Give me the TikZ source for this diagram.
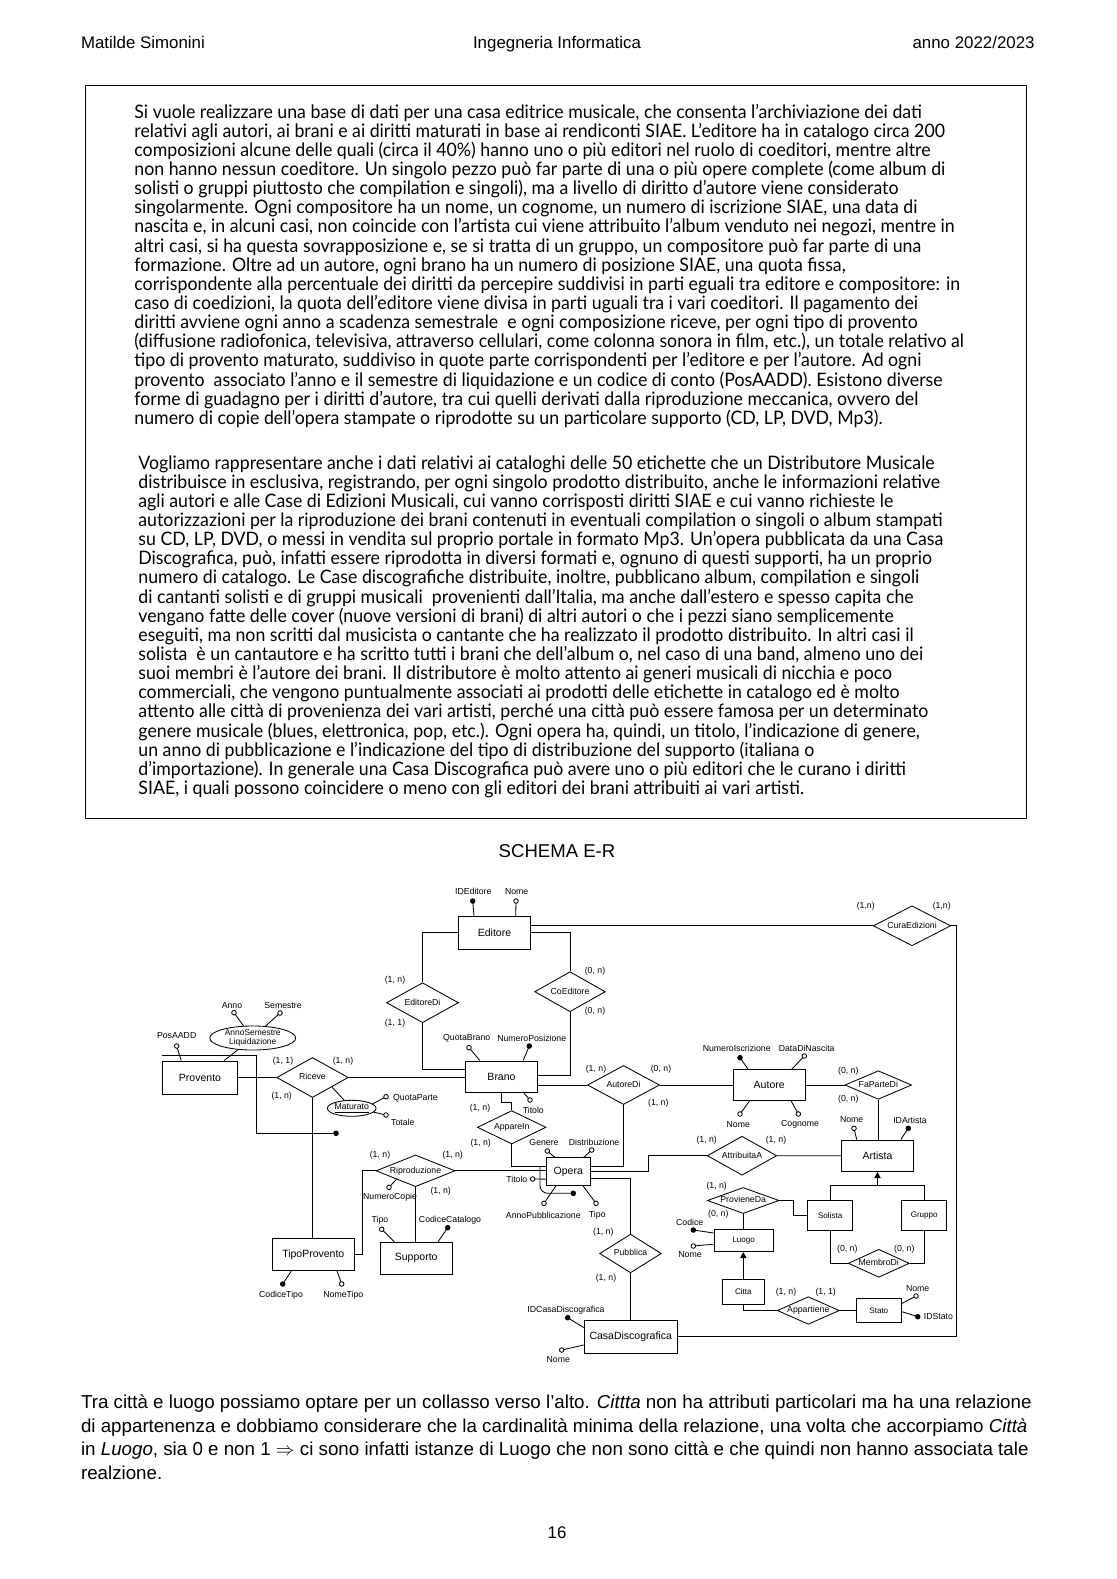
\documentclass[tikz,border=0pt]{standalone}
\usepackage{fontspec}
\setmainfont{Liberation Sans}
\newfontfamily\boxfont[FakeStretch=0.955]{Lato}
\usetikzlibrary{arrows.meta,shapes.geometric}
\newdimen\pxu \pxu=0.53333pt
\newcommand{\entfont}{\fontsize{5.6}{6.5}\selectfont}
\newcommand{\smfont}{\fontsize{4.3}{5}\selectfont}
\newcommand{\attfont}{\fontsize{4.65}{5.3}\selectfont}
\newcommand{\boxtext}{\boxfont\fontsize{9.9}{10.21}\selectfont\lineskiplimit-20pt\relax}

\begin{document}
\begin{tikzpicture}[x=0.53333pt,y=-0.53333pt,line width=0.45pt,
  sz/.style 2 args={minimum width=#1*\pxu,minimum height=#2*\pxu},
  entity/.style={draw,rectangle,inner sep=0pt,font=\entfont},
  small/.style={font=\smfont},
  rel/.style={draw,diamond,aspect=2.5,inner sep=0pt,text height=3.3pt,text depth=0.8pt,font=\attfont},
  att/.style={draw,circle,fill=white,inner sep=0pt,minimum size=4.6*\pxu},
  key/.style={draw,circle,fill=black,inner sep=0pt,minimum size=4.6*\pxu},
  lbl/.style={font=\attfont,inner sep=0.4pt},
  card/.style={font=\attfont,inner sep=0pt},
  gen/.style={-{Triangle[length=3.2pt,width=3.4pt]}},
  para/.style={align=left,inner sep=0pt,font=\boxtext},
  head/.style={inner sep=0pt,font=\fontsize{9}{11}\selectfont}
]
\path[fill=white] (0,0) rectangle (1116,1579);
\useasboundingbox (0,0) rectangle (1116,1579);

% page header
\node[head,anchor=base west] (hl) at (80.6,48.3) {Matilde Simonini};
\node[head,anchor=base] (hc) at (557,48.3) {Ingegneria Informatica};
\node[head,anchor=base east] (hr) at (1035,48.3) {anno 2022/2023};

% text of the exercise
\draw[line width=0.6pt] (85.6,85.6) rectangle (1026.4,818.9);
\node[para,anchor=north west] (p1) at (134,103.5) {Si vuole realizzare una base di dati per una casa editrice musicale, che consenta l’archiviazione dei dati\\
relativi agli autori, ai brani e ai diritti maturati in base ai rendiconti SIAE. L’editore ha in catalogo circa 200\\
composizioni alcune delle quali (circa il 40\%) hanno uno o più editori nel ruolo di coeditori, mentre altre\\
non hanno nessun coeditore. Un singolo pezzo può far parte di una o più opere complete (come album di\\
solisti o gruppi piuttosto che compilation e singoli), ma a livello di diritto d’autore viene considerato\\
singolarmente. Ogni compositore ha un nome, un cognome, un numero di iscrizione SIAE, una data di\\
nascita e, in alcuni casi, non coincide con l’artista cui viene attribuito l’album venduto nei negozi, mentre in\\
altri casi, si ha questa sovrapposizione e, se si tratta di un gruppo, un compositore può far parte di una\\
formazione. Oltre ad un autore, ogni brano ha un numero di posizione SIAE, una quota fissa,\\
corrispondente alla percentuale dei diritti da percepire suddivisi in parti eguali tra editore e compositore: in\\
caso di coedizioni, la quota dell’editore viene divisa in parti uguali tra i vari coeditori. Il pagamento dei\\
diritti avviene ogni anno a scadenza semestrale \ e ogni composizione riceve, per ogni tipo di provento\\
(diffusione radiofonica, televisiva, attraverso cellulari, come colonna sonora in film, etc.), un totale relativo al\\
tipo di provento maturato, suddiviso in quote parte corrispondenti per l’editore e per l’autore. Ad ogni\\
provento \ associato l’anno e il semestre di liquidazione e un codice di conto (PosAADD). Esistono diverse\\
forme di guadagno per i diritti d’autore, tra cui quelli derivati dalla riproduzione meccanica, ovvero del\\
numero di copie dell’opera stampate o riprodotte su un particolare supporto (CD, LP, DVD, Mp3).};
\node[para,anchor=north west] (p2) at (138,455) {Vogliamo rappresentare anche i dati relativi ai cataloghi delle 50 etichette che un Distributore Musicale\\
distribuisce in esclusiva, registrando, per ogni singolo prodotto distribuito, anche le informazioni relative\\
agli autori e alle Case di Edizioni Musicali, cui vanno corrisposti diritti SIAE e cui vanno richieste le\\
autorizzazioni per la riproduzione dei brani contenuti in eventuali compilation o singoli o album stampati\\
su CD, LP, DVD, o messi in vendita sul proprio portale in formato Mp3. Un’opera pubblicata da una Casa\\
Discografica, può, infatti essere riprodotta in diversi formati e, ognuno di questi supporti, ha un proprio\\
numero di catalogo. Le Case discografiche distribuite, inoltre, pubblicano album, compilation e singoli\\
di cantanti solisti e di gruppi musicali \ provenienti dall’Italia, ma anche dall’estero e spesso capita che\\
vengano fatte delle cover (nuove versioni di brani) di altri autori o che i pezzi siano semplicemente\\
eseguiti, ma non scritti dal musicista o cantante che ha realizzato il prodotto distribuito. In altri casi il\\
solista \ è un cantautore e ha scritto tutti i brani che dell’album o, nel caso di una band, almeno uno dei\\
suoi membri è l’autore dei brani. Il distributore è molto attento ai generi musicali di nicchia e poco\\
commerciali, che vengono puntualmente associati ai prodotti delle etichette in catalogo ed è molto\\
attento alle città di provenienza dei vari artisti, perché una città può essere famosa per un determinato\\
genere musicale (blues, elettronica, pop, etc.). Ogni opera ha, quindi, un titolo, l’indicazione di genere,\\
un anno di pubblicazione e l’indicazione del tipo di distribuzione del supporto (italiana o\\
d’importazione). In generale una Casa Discografica può avere uno o più editori che le curano i diritti\\
SIAE, i quali possono coincidere o meno con gli editori dei brani attribuiti ai vari artisti.};

\node[inner sep=0pt,anchor=base,font=\fontsize{9.9}{12}\selectfont] (title) at (557,857.6) {SCHEMA E-R};

% entities
\node[entity,sz={72.4}{32.3}] (ed) at (494.5,932.8) {Editore};
\node[entity,sz={71.6}{31.7}] (br) at (501.5,1076.8) {Brano};
\node[entity,sz={74.6}{33}] (pr) at (200,1077.5) {Provento};
\node[entity,sz={81.3}{32.4}] (tp) at (313.3,1254.5) {TipoProvento};
\node[entity,sz={72.3}{32}] (sup) at (416.2,1258.3) {Supporto};
\node[entity,sz={44.7}{28}] (op) at (568.3,1171.7) {Opera};
\node[entity,sz={71.7}{31}] (aut) at (769.2,1085) {Autore};
\node[entity,sz={71.6}{31.7}] (art) at (877.5,1155.8) {Artista};
\node[entity,small,sz={45}{30}] (sol) at (830.2,1215.7) {Solista};
\node[entity,small,sz={45}{30}] (grp) at (924.2,1215.7) {Gruppo};
\node[entity,small,sz={59.3}{22.4}] (luo) at (743.7,1240.5) {Luogo};
\node[entity,small,sz={42}{25}] (cit) at (743.3,1291.8) {Citta};
\node[entity,small,sz={45.7}{24.4}] (sta) at (878.8,1310.5) {Stato};
\node[entity,sz={93.3}{33.3}] (casa) at (630.7,1336.7) {CasaDiscografica};

% relationships
\node[rel,sz={72}{40}] (edDi) at (422.5,1002.7) {EditoreDi};
\node[rel,sz={70.6}{40}] (coEd) at (570,991.7) {CoEditore};
\node[rel,sz={77.4}{40}] (cura) at (912,925.8) {CuraEdizioni};
\node[rel,sz={71.6}{40}] (ric) at (312.5,1077.5) {Riceve};
\node[rel,sz={72}{39}] (autDi) at (623.5,1085) {AutoreDi};
\node[rel,sz={66.6}{28.6}] (fpd) at (878.3,1085) {FaParteDi};
\node[rel,sz={68.6}{33.4}] (app) at (511.7,1127.3) {AppareIn};
\node[rel,sz={79}{31.7}] (rip) at (415.5,1170.8) {Riproduzione};
\node[rel,sz={69.4}{39}] (attrA) at (742,1155.7) {AttribuitaA};
\node[rel,sz={71.7}{26}] (prov) at (743.2,1200.5) {ProvieneDa};
\node[rel,sz={61.7}{38.7}] (pub) at (630.5,1253.5) {Pubblica};
\node[rel,sz={61}{28}] (mem) at (878.8,1263.3) {MembroDi};
\node[rel,sz={62}{27.6}] (appt) at (808.3,1310.5) {Appartiene};

% composite attributes
\node[draw,ellipse,sz={86}{24},inner sep=0pt,font=\fontsize{4.5}{5}\selectfont,align=center] (liq) at (252.7,1038) {AnnoSemestre\\Liquidazione};
\node[draw,ellipse,sz={46}{16},inner sep=0pt,font=\attfont] (mat) at (351.7,1108.3) {\underline{Maturato}};
\draw (pr.35) -- (liq);
\draw (ric.-26) -- (mat);

% connectors
\draw (ed.west) -| (edDi.north);
\draw (edDi.south) |- (br.west |- 0,1069);
\draw (ed.east) -| (coEd.north);
\draw (coEd.south) |- (br.east |- 0,1075);
\draw (ed.east |- cura.west) -- (cura.west);
\draw (cura.east) -- ++(5.3,0) |- (casa.east);
\draw (pr) -- (ric);
\draw (ric.east) -- (ric.east -| br.west);
\draw (ric.south) -- (ric.south |- tp.north);
\draw (rip.west) -- ++(-12.7,0) |- (tp.east);
\draw (rip.south) -- (rip.south |- sup.north);
\draw (rip.east) -- (rip.east -| op.west);
\draw (br.south) |- (app.north |- 0,1102) -- (app.north);
\draw (app.south) |- (op.west |- 0,1166);
\draw (br.east |- autDi.west) -- (autDi.west);
\draw (autDi) -- (aut);
\draw (autDi.south) |- (op.east |- 0,1166);
\draw (op.east |- 0,1171.5) -- ++(57.6,0) |- (attrA.west);
\draw (op.east |- 0,1178.3) -| (pub.north);
\draw (pub.south) -- (pub.south |- casa.north);
\draw (aut) -- (fpd);
\draw (fpd.south) -- (fpd.south |- art.north);
\draw (attrA) -- (art);
\coordinate (genA) at (art.south |- 0,1185.7);
\draw (sol.north) |- (genA) -| (grp.north);
\draw[gen] (genA) -- (art.south);
\draw (prov.east) -- ++(14.3,0) |- (sol.west);
\draw (prov.south) -- (prov.south |- luo.north);
\draw[gen] (cit.north) -- (cit.north |- luo.south);
\draw (cit.south) |- (appt.west);
\draw (appt) -- (sta);
\draw (sol.south) |- (mem.west);
\draw (grp.south) |- (mem.east);

% external identifiers
\node[key] (prId) at (336,1133.3) {};
\draw (pr.west |- 0,1055) -| (256,1133.3) -- (prId);
\node[key] (opId) at (573.3,1193.3) {};
\draw (op.west |- 0,1166.5) ++(-5.5,0) -- ++(0,19.5) to[out=-90,in=180] ++(8,7.3) -- (opId);

% attributes
\foreach \n/\e/\cx/\cy/\tx/\ty/\a/\t in {
  edNome/ed.38/516/901/516.7/891.7/center/Nome,
  anno/liq.127/234/1012.7/232/1005.7/center/Anno,
  sem/liq.43/280/1013/283/1005.7/center/Semestre,
  pos/pr.138/176.7/1046/176.7/1035.7/center/PosAADD,
  qp/mat.12/386/1096.7/392/1098.5/west/QuotaParte,
  tot/mat.-10/386/1115/390/1122.3/west/Totale,
  qb/br.143/469/1047.7/466.7/1038.3/center/QuotaBrano,
  brTit/br.-36/530/1100/533.3/1110/center/Titolo,
  nt/tp.-35/341.7/1284/343.3/1295/center/NomeTipo,
  nc/rip.-156/389/1187.3/390/1197.3/center/NumeroCopie,
  supTipo/sup.143/381.7/1229.3/380/1220.7/center/Tipo,
  gen/op.133/547.3/1151/544/1142.3/center/Genere,
  dist/op.43/591.7/1150/594/1142.3/center/Distribuzione,
  opTit/op.-162/532.7/1179/528.5/1179/east/Titolo,
  annoP/op.-131/544/1203.3/543.3/1215/center/AnnoPubblicazione,
  opTipo/op.-44/596/1203.3/597.3/1215/center/Tipo,
  casaNome/casa.-170/561.7/1350/558.3/1359.3/center/Nome,
  ddn/aut.35/804.3/1056/806.7/1048.3/center/DataDiNascita,
  autNome/aut.-141/740/1114/738.3/1124.3/center/Nome,
  cogn/aut.-36/798.3/1114/800/1124.3/center/Cognome,
  artNome/art.142/854/1128.3/851.7/1120/center/Nome,
  luoNome/luo.-173/693.3/1246/690/1255/center/Nome,
  staNome/sta.17/916/1296/917.7/1289/center/Nome}{
  \draw (\e) -- (\cx,\cy);
  \node[att] (\n) at (\cx,\cy) {};
  \node[lbl,anchor=\a] (\n-t) at (\tx,\ty) {\t};
}
\foreach \n/\e/\cx/\cy/\tx/\ty/\a/\t in {
  idEd/ed.141/472.7/901/473.3/891.7/center/IDEditore,
  np/br.37/529.3/1046/531.7/1038.3/center/NumeroPosizione,
  ct/tp.-143/282.7/1284/281/1295/center/CodiceTipo,
  cc/sup.37/447.7/1227.7/450/1220.7/center/CodiceCatalogo,
  idCasa/casa.169/567.7/1317.7/566/1310/center/IDCasaDiscografica,
  ni/aut.143/740/1057.7/736.7/1048.3/center/NumeroIscrizione,
  idArt/art.35/908.3/1128.3/910/1120/center/IDArtista,
  cod/luo.166/693.3/1230/689.7/1222.7/center/Codice,
  idSt/sta.-3/917.7/1316.7/922.7/1316.7/west/IDStato}{
  \draw (\e) -- (\cx,\cy);
  \node[key] (\n) at (\cx,\cy) {};
  \node[lbl,anchor=\a] (\n-t) at (\tx,\ty) {\t};
}

% cardinalities
\foreach \x/\y/\a/\b [count=\i] in {395/980/1/n, 395/1023/1/1, 595/971/0/n, 595/1011.7/0/n,
  283/1061/1/1, 343/1061/1/n, 281.7/1096.7/1/n, 596/1069.3/1/n, 661/1069.3/0/n, 658.3/1103.3/1/n,
  848.3/1071.7/0/n, 848.3/1099/0/n, 480/1108.3/1/n, 480.7/1143.3/1/n, 380/1155.7/1/n,
  452.7/1155.7/1/n, 440.7/1191.7/1/n, 706.7/1140/1/n, 776/1140/1/n, 716.7/1186/1/n,
  718.3/1214/0/n, 603.3/1232.7/1/n, 606/1278.3/1/n, 847.3/1249.3/0/n, 904.3/1249.3/0/n,
  786/1292.3/1/n, 825.7/1292.3/1/1}
  \node[card] (c\i) at (\x,\y) {(\a, \b)};
\node[card] (cc1) at (865.7,906.7) {(1,n)};
\node[card] (cc2) at (941.7,906.7) {(1,n)};

% comment below the schema
\node[align=left,inner sep=0pt,anchor=north west,font=\fontsize{10}{12.53}\selectfont] (note) at (80.6,1394.5) {Tra città e luogo possiamo optare per un collasso verso l’alto. \textit{Cittta} non ha attributi particolari ma ha una relazione\\
di appartenenza e dobbiamo considerare che la cardinalità minima della relazione, una volta che accorpiamo \textit{Città}\\
in \textit{Luogo}, sia 0 e non 1 $\Rightarrow$ ci sono infatti istanze di Luogo che non sono città e che quindi non hanno associata tale\\
realzione.};
\node[head,anchor=base] (pg) at (557,1538) {16};
\end{tikzpicture}
\end{document}
